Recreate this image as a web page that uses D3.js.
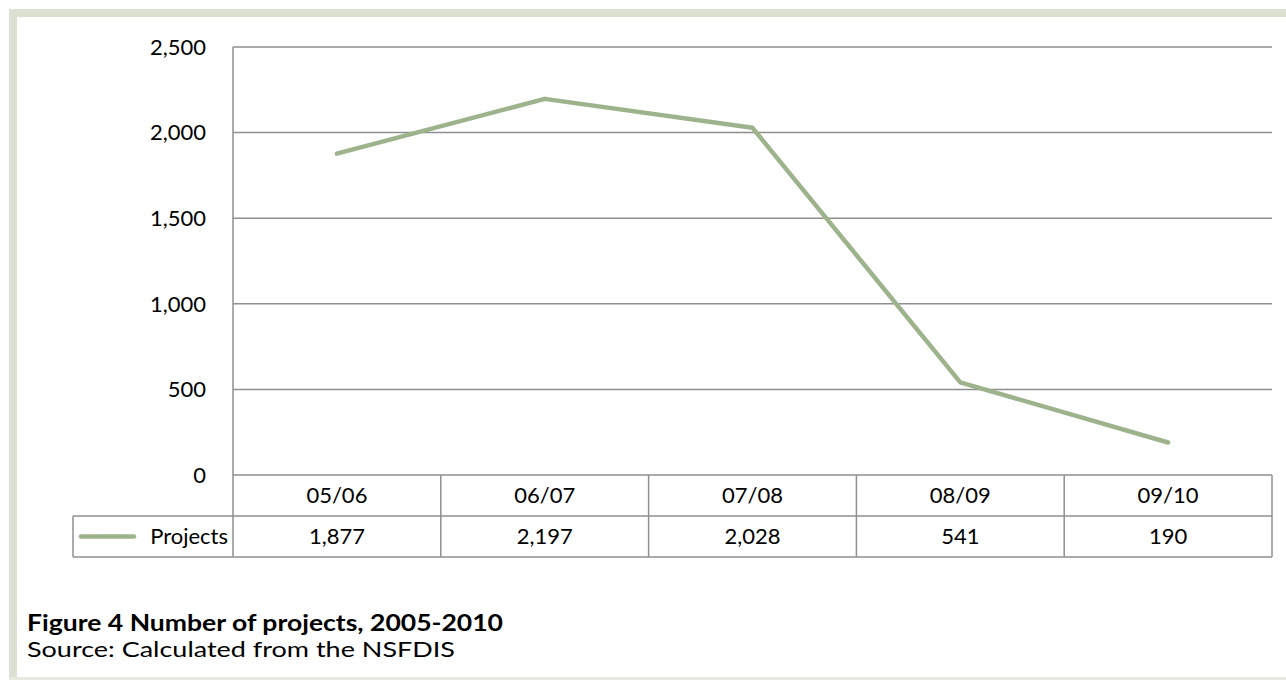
<!DOCTYPE html>
<html>
<head>
<meta charset="utf-8">
<script src="https://cdn.jsdelivr.net/npm/d3@7"></script>
<style>
  html, body { margin: 0; padding: 0; background: #fff; }
  svg { display: block; font-family: Lato, "Open Sans", sans-serif; }
</style>
</head>
<body>
<svg id="chart" width="1286" height="680"></svg>
<script>
// Number of projects per financial year
const categories = ["05/06", "06/07", "07/08", "08/09", "09/10"];
const projects = [1877, 2197, 2028, 541, 190];
const seriesName = "Projects";
const yTicks = [0, 500, 1000, 1500, 2000, 2500];

const svg = d3.select("#chart");
const W = 1286, H = 680;
const fontSize = 22;

// frame bands
const frame = "#dbe0d3";
svg.append("rect").attr("x", 9).attr("y", 9).attr("width", W - 9).attr("height", 8).attr("fill", frame);
svg.append("rect").attr("x", 9).attr("y", 9).attr("width", 8).attr("height", H - 9).attr("fill", frame);
svg.append("rect").attr("x", 9).attr("y", 677).attr("width", W - 9).attr("height", 3).attr("fill", "#e6e9e0");

const plot = { left: 233, right: 1272, top: 47, bottom: 475 };
const rowH = 41;

const x = d3.scaleBand().domain(categories).range([plot.left, plot.right]);
const y = d3.scaleLinear().domain([0, 2500]).range([plot.bottom, plot.top]);

const gridColor = "#8f8f8f";
const fmt = d3.format(",");

// horizontal gridlines
svg.append("g").selectAll("line").data(yTicks).join("line")
  .attr("x1", plot.left).attr("x2", plot.right)
  .attr("y1", d => y(d)).attr("y2", d => y(d))
  .attr("stroke", gridColor).attr("stroke-width", 1.5);

// vertical axis line
svg.append("line")
  .attr("x1", plot.left).attr("x2", plot.left)
  .attr("y1", plot.top).attr("y2", plot.bottom + 2 * rowH)
  .attr("stroke", gridColor).attr("stroke-width", 1.5);

// y tick labels
svg.append("g").selectAll("text").data(yTicks).join("text")
  .attr("x", 206).attr("y", d => y(d))
  .attr("dy", "0.35em").attr("text-anchor", "end")
  .attr("font-size", fontSize).attr("fill", "#000")
  .text(d => fmt(d));

// data table below the plot
const tableLeft = 73;
const t = svg.append("g");
[plot.bottom + rowH, plot.bottom + 2 * rowH].forEach(yy => {
  t.append("line").attr("x1", tableLeft).attr("x2", plot.right)
    .attr("y1", yy).attr("y2", yy).attr("stroke", gridColor).attr("stroke-width", 1.5);
});
t.append("line").attr("x1", tableLeft).attr("x2", tableLeft)
  .attr("y1", plot.bottom + rowH).attr("y2", plot.bottom + 2 * rowH)
  .attr("stroke", gridColor).attr("stroke-width", 1.5);
// column separators
t.selectAll("line.col").data(categories).join("line").attr("class", "col")
  .attr("x1", d => x(d) + x.bandwidth()).attr("x2", d => x(d) + x.bandwidth())
  .attr("y1", plot.bottom).attr("y2", plot.bottom + 2 * rowH)
  .attr("stroke", gridColor).attr("stroke-width", 1.5);

// category row
t.selectAll("text.cat").data(categories).join("text").attr("class", "cat")
  .attr("x", d => x(d) + x.bandwidth() / 2)
  .attr("y", plot.bottom + rowH / 2).attr("dy", "0.35em")
  .attr("text-anchor", "middle").attr("font-size", fontSize)
  .text(d => d);

// value row
t.selectAll("text.val").data(projects).join("text").attr("class", "val")
  .attr("x", (d, i) => x(categories[i]) + x.bandwidth() / 2)
  .attr("y", plot.bottom + rowH * 1.5).attr("dy", "0.35em")
  .attr("text-anchor", "middle").attr("font-size", fontSize)
  .text(d => fmt(d));

const lineColor = "#9cb38c";

// legend key in the table
t.append("line")
  .attr("x1", 81).attr("x2", 134)
  .attr("y1", plot.bottom + rowH * 1.5).attr("y2", plot.bottom + rowH * 1.5)
  .attr("stroke", lineColor).attr("stroke-width", 4.5).attr("stroke-linecap", "round");
t.append("text")
  .attr("x", 228).attr("y", plot.bottom + rowH * 1.5).attr("dy", "0.35em")
  .attr("text-anchor", "end").attr("font-size", fontSize)
  .text(seriesName);

// series line
const line = d3.line()
  .x((d, i) => x(categories[i]) + x.bandwidth() / 2)
  .y(d => y(d));
svg.append("path").datum(projects)
  .attr("d", line)
  .attr("fill", "none")
  .attr("stroke", lineColor).attr("stroke-width", 4.5)
  .attr("stroke-linecap", "round").attr("stroke-linejoin", "round");

// caption
svg.append("text").attr("x", 27).attr("y", 631)
  .attr("font-size", 22).attr("font-weight", "bold")
  .attr("textLength", 476).attr("lengthAdjust", "spacingAndGlyphs")
  .text("Figure 4 Number of projects, 2005-2010");
svg.append("text").attr("x", 27).attr("y", 657)
  .attr("font-size", 22)
  .attr("textLength", 428).attr("lengthAdjust", "spacingAndGlyphs")
  .text("Source: Calculated from the NSFDIS");
</script>
</body>
</html>
